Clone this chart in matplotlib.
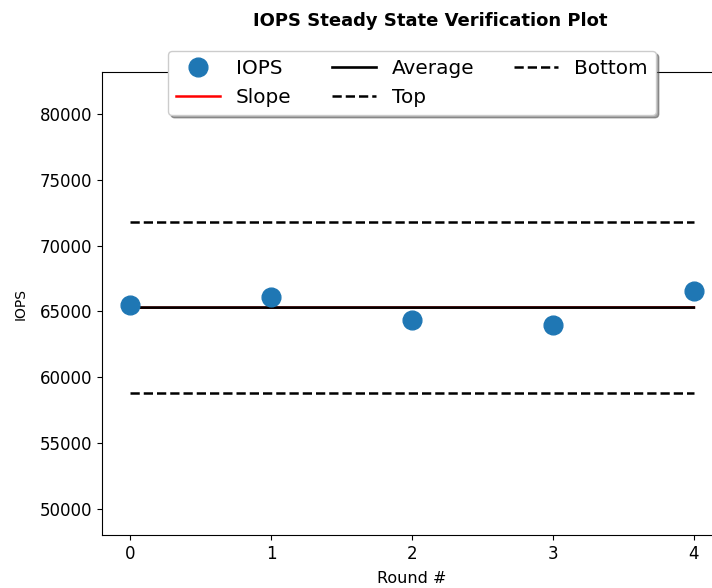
import numpy as np
import matplotlib
matplotlib.use("Agg")
import matplotlib.pyplot as plt

# IOPS measured in each steady-state round
ROUNDS = [0, 1, 2, 3, 4]
IOPS = [65507, 66064, 64340, 63982, 66575]

TITLE = "IOPS Steady State Verification Plot"

rounds = np.array(ROUNDS)
iops = np.array(IOPS, dtype=float)
average = iops.mean()
slope, intercept = np.polyfit(rounds, iops, 1)
top = average * 1.1
bottom = average * 0.9

fig = plt.figure(figsize=(7.12, 5.88), dpi=100)
ax = fig.add_axes([0.1433, 0.0901, 0.8708, 0.7874])

ax.plot(rounds, iops, "o", color="#1f77b4", markersize=13.5, label="IOPS", zorder=4)
ax.plot(rounds, slope * rounds + intercept, "-", color="red", linewidth=1.8,
        label="Slope", zorder=2, snap=False)
ax.plot(rounds, [average] * len(rounds), "-", color="black", linewidth=1.9,
        label="Average", zorder=3, snap=False)
ax.plot(rounds, [top] * len(rounds), "--", color="black", linewidth=1.8, label="Top")
ax.plot(rounds, [bottom] * len(rounds), "--", color="black", linewidth=1.8, label="Bottom")

ax.set_xlim(-0.2, 4.2)
ax.set_ylim(iops.min() * 0.75, iops.max() * 1.25)
ax.set_xticks(ROUNDS)
ax.tick_params(labelsize=12)
ax.set_xlabel("Round #", fontsize=11.5, labelpad=6)
ax.set_ylabel("IOPS", fontsize=10, labelpad=9)
ax.set_title(TITLE, fontsize=13, fontweight="bold", pad=33, x=0.529)
ax.spines["right"].set_visible(False)

ax.legend(loc="upper center", bbox_to_anchor=(0.5, 1.067), ncol=3,
          fancybox=True, shadow=True, fontsize=14.4, handlelength=2.2)

fig.savefig("out.png", dpi=100)
